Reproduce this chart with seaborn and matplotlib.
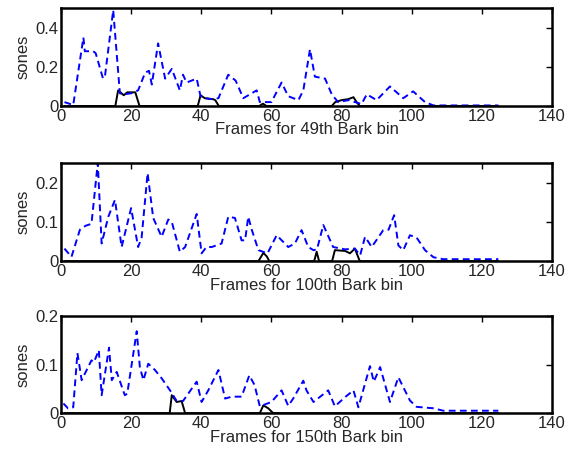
import matplotlib
matplotlib.use("Agg")
import matplotlib.pyplot as plt
import numpy as np
import pandas as pd
import seaborn as sns

# frame / loudness (sones) vertices
bins = ["49th", "100th", "150th"]

blue_x_49 = [1, 3.5, 6.4, 6.8, 9.2, 9.9, 12, 12.6, 14.9, 16.8, 18, 20, 22, 24, 25.1, 25.9,
             27.7, 29.7, 31.6, 33.9, 34.8, 35.8, 38.7, 39.8, 41, 43, 44.9, 47.7, 49.8, 52,
             55.8, 56.7, 60, 62.9, 64.8, 67.7, 69.1, 71, 72.4, 75.3, 77.2, 79, 82, 85.7,
             87.2, 90, 93.8, 97.6, 100.4, 103.8, 106.2, 110, 115, 120, 124.7]
blue_y_49 = [0.02, 0.005, 0.35, 0.28, 0.28, 0.27, 0.14, 0.16, 0.49, 0.065, 0.06, 0.065, 0.08,
             0.17, 0.18, 0.11, 0.32, 0.14, 0.19, 0.08, 0.16, 0.12, 0.14, 0.05, 0.04, 0.035,
             0.04, 0.16, 0.13, 0.04, 0.08, 0.02, 0.02, 0.12, 0.05, 0.03, 0.08, 0.29, 0.15,
             0.14, 0.06, 0.02, 0.03, 0.01, 0.06, 0.03, 0.1, 0.04, 0.075, 0.02, 0.003, 0.003,
             0.003, 0.003, 0.003]
black_x_49 = [1, 15.5, 16.3, 17.9, 18.9, 21.2, 22.4, 39, 39.8, 41, 43.4, 44, 45, 56.5, 57.6,
              58.6, 77.2, 78.2, 80, 81.9, 83.4, 84.3, 85.2, 124.7]
black_y_49 = [0, 0, 0.08, 0.055, 0.07, 0.07, 0, 0, 0.055, 0.04, 0.035, 0.03, 0, 0, 0.012,
              0, 0, 0.02, 0.03, 0.035, 0.045, 0.02, 0, 0]

blue_x_100 = [1, 3, 5.4, 7, 8.7, 10.5, 11.6, 13.5, 15.4, 17.3, 20, 22, 23, 24.7, 26.3, 28.7,
              30.6, 31.6, 33.9, 35.4, 38.7, 40.1, 41.5, 43, 45.8, 47.7, 49.6, 51.5, 52.5,
              53.4, 54.4, 56.3, 58.9, 61.5, 64.8, 66.7, 68.6, 70.5, 72, 73, 74.8, 77.6, 81,
              83.8, 85.3, 86.7, 88.6, 91.9, 93.4, 95, 96.2, 97.6, 99.5, 101.4, 103.8, 106.2,
              109, 115, 120, 124.7]
blue_y_100 = [0.032, 0.011, 0.08, 0.09, 0.095, 0.25, 0.045, 0.113, 0.156, 0.036, 0.135,
              0.036, 0.06, 0.224, 0.11, 0.062, 0.106, 0.1, 0.024, 0.036, 0.12, 0.02, 0.036,
              0.036, 0.045, 0.113, 0.11, 0.053, 0.053, 0.113, 0.08, 0.028, 0.02, 0.066,
              0.036, 0.045, 0.079, 0.036, 0.028, 0.03, 0.092, 0.036, 0.03, 0.032, 0.015,
              0.062, 0.036, 0.079, 0.08, 0.117, 0.04, 0.028, 0.066, 0.06, 0.028, 0.01,
              0.005, 0.005, 0.005, 0.005]
black_x_100 = [1, 56.3, 57.7, 58.7, 59.4, 72.2, 72.9, 73.6, 77.3, 78.1, 81, 82.4, 83.8, 85.2,
               124.7]
black_y_100 = [0, 0, 0.021, 0.012, 0, 0, 0.024, 0, 0, 0.028, 0.026, 0.02, 0.032, 0, 0]

blue_x_150 = [0.7, 2, 3.5, 4.7, 5.9, 8.7, 9.4, 10.8, 11.6, 13.7, 14.5, 15.9, 18.2, 18.9, 21.6,
              22.5, 23.5, 24.9, 26.8, 28.7, 31.1, 33, 34.8, 38.7, 40.1, 42, 44.9, 46.8, 48.7,
              51.5, 53.7, 55.2, 56.7, 60, 62.9, 64.8, 66.2, 69.1, 70, 72, 76.2, 78.1, 81, 83.4,
              84.8, 88.1, 89.2, 91, 93.8, 96.2, 99.5, 101.4, 106.2, 109, 115, 120, 124.7]
blue_y_150 = [0.02, 0.01, 0.012, 0.124, 0.068, 0.109, 0.105, 0.13, 0.037, 0.135, 0.068,
              0.085, 0.037, 0.04, 0.169, 0.095, 0.068, 0.102, 0.089, 0.072, 0.047, 0.025,
              0.025, 0.065, 0.023, 0.047, 0.089, 0.03, 0.034, 0.034, 0.078, 0.058, 0.014,
              0.023, 0.047, 0.015, 0.03, 0.067, 0.047, 0.023, 0.047, 0.014, 0.033, 0.047,
              0.012, 0.097, 0.065, 0.095, 0.023, 0.074, 0.026, 0.013, 0.01, 0.005, 0.005,
              0.005, 0.005]
black_x_150 = [1, 31, 31.6, 33, 34.4, 35.4, 56.7, 57.7, 59.1, 60.5, 124.7]
black_y_150 = [0, 0, 0.037, 0.023, 0.025, 0, 0, 0.016, 0.01, 0, 0]

blue_x = [blue_x_49, blue_x_100, blue_x_150]
blue_y = [blue_y_49, blue_y_100, blue_y_150]
black_x = [black_x_49, black_x_100, black_x_150]
black_y = [black_y_49, black_y_100, black_y_150]
y_max = [0.5, 0.25, 0.2]
y_ticks = [[0, 0.2, 0.4], [0, 0.1, 0.2], [0, 0.1, 0.2]]
y_ticklabels = [["0", "0.2", "0.4"], ["0", "0.1", "0.2"], ["0", "0.1", "0.2"]]

sns.set_theme(style="white")
plt.rcParams["font.family"] = ["Liberation Sans", "DejaVu Sans"]
plt.rcParams["font.size"] = 12

fig = plt.figure(figsize=(5.75, 4.55), dpi=100)
boxes = [[0.106, 0.767, 0.854, 0.215],
         [0.106, 0.426, 0.854, 0.216],
         [0.106, 0.092, 0.854, 0.213]]

for i, b in enumerate(bins):
    ax = fig.add_axes(boxes[i])
    df_blue = pd.DataFrame({"frame": blue_x[i], "sones": blue_y[i]})
    df_black = pd.DataFrame({"frame": black_x[i], "sones": black_y[i]})
    sns.lineplot(data=df_black, x="frame", y="sones", ax=ax, color="black",
                 linewidth=1.4, sort=False, estimator=None)
    sns.lineplot(data=df_blue, x="frame", y="sones", ax=ax, color="#0000ff",
                 linewidth=1.4, linestyle=(0, (3.5, 2.2)), sort=False, estimator=None)
    ax.set_xlim(0, 140)
    ax.set_ylim(0, y_max[i])
    ax.set_xticks(range(0, 141, 20))
    ax.set_yticks(y_ticks[i])
    ax.set_yticklabels(y_ticklabels[i])
    ax.set_xlabel("Frames for %s Bark bin" % b, fontsize=12, labelpad=-1)
    ax.set_ylabel("sones", fontsize=12, labelpad=3)
    ax.tick_params(direction="in", length=4, width=1, top=True, right=True,
                   labelsize=12, pad=2, color="black")
    for s in ax.spines.values():
        s.set_linewidth(1.8)
        s.set_color("black")

fig.savefig("out.png", dpi=100)
